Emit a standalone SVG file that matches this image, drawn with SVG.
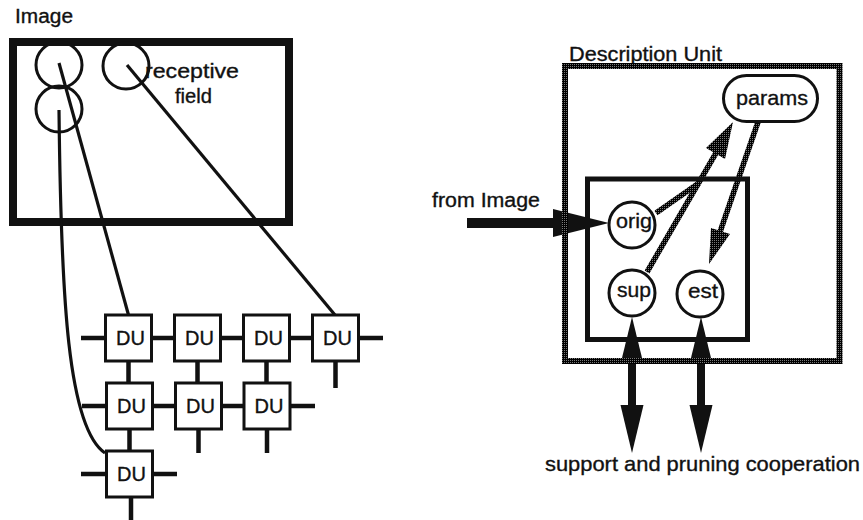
<svg xmlns="http://www.w3.org/2000/svg" width="863" height="520" viewBox="0 0 863 520">
<defs>
<pattern id="dither" width="2" height="2" patternUnits="userSpaceOnUse">
<rect width="2" height="2" fill="#000"/>
<rect x="0" y="0" width="1" height="1" fill="#777"/>
</pattern>
<style>
.t{font-family:"Liberation Sans",Arial,sans-serif;font-size:20px;fill:#111;stroke:#111;stroke-width:0.35}
.t21{font-size:21px}
.box{fill:#fff;stroke:#111;stroke-width:3}
.ring{fill:#fff;stroke:#111;stroke-width:3}
.ringo{fill:none;stroke:#111;stroke-width:3}
.wire{fill:none;stroke:#111;stroke-width:3.2}
.link{fill:none;stroke:#111;stroke-width:4.5}
.dith{fill:none;stroke:url(#dither);stroke-width:5.5}
.dithf{fill:url(#dither);stroke:none}
</style>
</defs>
<rect width="863" height="520" fill="#fff"/>

<!-- Left: Image -->
<g id="image">
<text class="t" x="15" y="23" textLength="58" lengthAdjust="spacingAndGlyphs">Image</text>
<rect x="13" y="42" width="276" height="180" fill="#fff" stroke="#111" stroke-width="8"/>
<circle class="ringo" cx="59" cy="65" r="23"/>
<circle class="ringo" cx="59" cy="109" r="23"/>
<circle class="ringo" cx="126" cy="66" r="23"/>
<text class="t" x="145" y="78" textLength="94" lengthAdjust="spacingAndGlyphs">receptive</text>
<text class="t" x="175" y="103" textLength="37" lengthAdjust="spacingAndGlyphs">field</text>
</g>

<g id="connectors">
<!-- receptive field wires -->
<path class="wire" d="M59,63 L128.5,315"/>
<path class="wire" d="M127,65 L335,315"/>
<path class="wire" d="M59,110 C61,300 68,428 105,453"/>
<!-- grid links -->
<path class="link" d="M81,338 H105.5 M151.5,338 H174.5 M220.5,338 H243.5 M289.5,338 H312.5 M358.5,338 H383"/>
<path class="link" d="M128.5,361 V383 M197.5,361 V383 M266.5,361 V383 M335.5,361 V388"/>
<path class="link" d="M82,406 H106.5 M152.5,406 H175.5 M221.5,406 H244 M290,406 H315"/>
<path class="link" d="M129.5,429 V451 M198.5,429 V453 M267,429 V453"/>
<path class="link" d="M81,474 H106.5 M152.5,474 H177 M131,497 V520"/>
<!-- from Image arrow -->
<rect x="467" y="218" width="88" height="10" fill="#111"/>
<polygon points="553,209 609,223 553,237" fill="#111"/>
<!-- dithered arrows -->
<path class="dith" d="M656,213 L699,183"/>
<path class="dith" d="M647,272 L716,153"/>
<polygon class="dithf" points="733,122 725,159 706,148"/>
<path class="dith" d="M758,122 L720,232"/>
<polygon class="dithf" points="709,264 711,228 730,234"/>
<!-- support/pruning arrows -->
<g fill="#111">
<rect x="628" y="360" width="8" height="47"/>
<polygon points="632,317 621,362 643,362"/>
<polygon points="620.5,405 643.5,405 632,453"/>
<rect x="697" y="360" width="8" height="47"/>
<polygon points="701,317 690,362 712,362"/>
<polygon points="689.5,405 712.5,405 701,453"/>
</g>
</g>

<!-- DU grid nodes -->
<g id="du11"><rect class="box" x="105.5" y="315" width="46" height="46"/><text class="t" x="130.5" y="345" text-anchor="middle">DU</text></g>
<g id="du12"><rect class="box" x="174.5" y="315" width="46" height="46"/><text class="t" x="199.5" y="345" text-anchor="middle">DU</text></g>
<g id="du13"><rect class="box" x="243.5" y="315" width="46" height="46"/><text class="t" x="268.5" y="345" text-anchor="middle">DU</text></g>
<g id="du14"><rect class="box" x="312.5" y="315" width="46" height="46"/><text class="t" x="337.5" y="345" text-anchor="middle">DU</text></g>
<g id="du21"><rect class="box" x="106.5" y="383" width="46" height="46"/><text class="t" x="131.5" y="413" text-anchor="middle">DU</text></g>
<g id="du22"><rect class="box" x="175.5" y="383" width="46" height="46"/><text class="t" x="200.5" y="413" text-anchor="middle">DU</text></g>
<g id="du23"><rect class="box" x="244" y="383" width="46" height="46"/><text class="t" x="269" y="413" text-anchor="middle">DU</text></g>
<g id="du31"><rect class="box" x="106.5" y="451" width="46" height="46"/><text class="t" x="131.5" y="481" text-anchor="middle">DU</text></g>

<!-- Right: Description Unit -->
<g id="description-unit">
<text class="t" x="569" y="61" textLength="153" lengthAdjust="spacingAndGlyphs">Description Unit</text>
<rect x="565" y="66" width="274.5" height="295" fill="none" stroke="url(#dither)" stroke-width="6"/>
<rect x="587.5" y="179" width="160" height="160.5" fill="none" stroke="#111" stroke-width="5"/>
</g>
<text class="t" x="432" y="207" textLength="108" lengthAdjust="spacingAndGlyphs">from Image</text>

<g id="params"><rect class="box" x="723.5" y="75.5" width="94" height="46" rx="23"/><text class="t t21" x="736" y="105" textLength="72" lengthAdjust="spacingAndGlyphs">params</text></g>
<g id="orig"><circle class="ring" cx="632" cy="225" r="23"/><text class="t t21" x="616" y="228" textLength="36" lengthAdjust="spacingAndGlyphs">orig</text></g>
<g id="sup"><circle class="ring" cx="632" cy="293" r="23"/><text class="t t21" x="617" y="297" textLength="34" lengthAdjust="spacingAndGlyphs">sup</text></g>
<g id="est"><circle class="ring" cx="700" cy="294" r="23"/><text class="t t21" x="688" y="298" textLength="30" lengthAdjust="spacingAndGlyphs">est</text></g>

<text class="t t21" x="545" y="471" textLength="315" lengthAdjust="spacingAndGlyphs">support and pruning cooperation</text>
</svg>
